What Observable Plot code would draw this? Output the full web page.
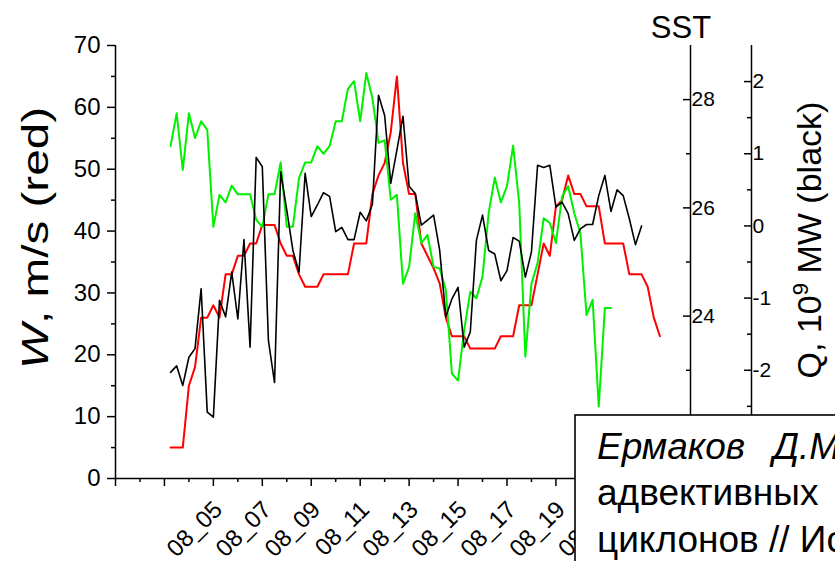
<!DOCTYPE html>
<html><head><meta charset="utf-8">
<script src="https://cdn.jsdelivr.net/npm/d3@7"></script>
<script src="https://cdn.jsdelivr.net/npm/@observablehq/plot@0.6"></script>
<style>
html,body{margin:0;padding:0;background:#fff;overflow:hidden}
#wrap{position:relative;width:835px;height:561px;overflow:hidden}
</style></head>
<body><div id="wrap"></div>
<script>
// time axis: 6-hourly samples starting 3.25 (day of August)
const tStart = 3.25, tStep = 0.25;
// W, m/s (red)
const wRed = [5,5,5,15,18,26,26,28,26,33, 33,36,36,38,38,41,41,41,38,36, 36,33,31,31,31,33,33,33,33,33,
  38,38,38,46,49,51,56,65,51,46, 46,38,36,34,31.5,26,23,23,23,21, 21,21,21,21,23,23,23,28,28,28,
  33,38,36,44,45,49,46,46,44,44, 44,38,38,38,38,33,33,33,31,26, 23];
// Q, 10^9 MW (black)
const qBlack = [-2.03,-1.94,-2.21,-1.82,-1.70,-0.87,-2.58,-2.65,-1.03,-1.26, -0.64,-1.29,-0.19,-1.68,0.95,0.82,-1.59,-2.17,0.75,0.22,
  -0.34,-0.64,0.73,0.13,0.29,0.46,0.41,-0.08,-0.02,-0.19, -0.19,0.19,0.07,0.30,1.81,1.53,0.59,1.05,1.52,0.55,
  0.45,0.01,0.08,0.15,-0.34,-1.26,-1.01,-0.85,-1.68,-1.47, -0.20,0.15,-0.34,-0.39,-0.76,-0.62,-0.16,-0.21,-0.71,-0.36,
  0.84,0.81,0.84,0.26,0.33,0.17,-0.20,-0.04,0.02,0.02, 0.42,0.70,0.20,0.50,0.42,0.10,-0.26,0.00];
// SST (green)
const sstGreen = [27.14,27.75,26.70,27.75,27.29,27.60,27.44,25.65,26.24,26.10, 26.41,26.25,26.25,26.25,25.78,25.65,26.25,26.25,26.84,25.65,
  25.65,26.55,26.84,26.84,27.14,27.00,27.14,27.60,27.60,28.20, 28.34,27.60,28.49,28.03,27.20,27.25,26.15,26.24,24.60,24.91,
  25.90,25.35,25.50,24.91,24.88,24.48,22.94,22.81,23.74,24.45, 24.33,24.73,25.90,26.56,26.10,26.40,27.15,26.09,23.25,24.60,
  24.98,25.81,25.72,25.35,26.21,26.40,25.90,25.53,24.02,24.30, 22.33,24.15,24.15];

const xDomain = [1, 24.5];
const xMajor = [1,3,5,7,9,11,13,15,17,19,21,23];
const xMinor = [2,4,6,8,10,12,14,16,18,20,22,24];
const xLabelDays = [5,7,9,11,13,15,17,19,21];
const xLabels = ["08_05","08_07","08_09","08_11","08_13","08_15","08_17","08_19","08_21"];

const wDomain = [0, 70];
const wMajor = [0,10,20,30,40,50,60,70];
const wMinor = [5,15,25,35,45,55,65];
const sstDomain = [21, 29];
const sstMajor = [24,26,28];       // labelled (22 lies under the citation box)
const sstMajorHidden = [22];
const sstMinor = [23,25,27];
const qDomain = [-3.5, 2.5];
const qMajor = [-2,-1,0,1,2];
const qMinor = [-3,-2.5,-1.5,-0.5,0.5,1.5];

const toW = dom => v => (v - dom[0]) / (dom[1] - dom[0]) * (wDomain[1] - wDomain[0]) + wDomain[0];
const fromW = dom => v => (v - wDomain[0]) / (wDomain[1] - wDomain[0]) * (dom[1] - dom[0]) + dom[0];
const sstToW = toW(sstDomain), qToW = toW(qDomain);
const wToSst = fromW(sstDomain), wToQ = fromW(qDomain);
const fmtPlain = v => { const r = Math.round(v * 100) / 100; return r < 0 ? "-" + Math.abs(r) : String(r); };
const T = (d, i) => tStart + i * tStep;

const FONT = "'Liberation Sans', Arial, Helvetica, sans-serif";
const AX = {stroke: "#000", strokeWidth: 1.5};
const QDX = 61;

const svg = Plot.plot({
  width: 835, height: 561,
  marginLeft: 115, marginRight: 145, marginTop: 45, marginBottom: 83,
  x: {domain: xDomain},
  y: {domain: wDomain},
  style: {fontFamily: FONT, fontSize: "20px", color: "#000", background: "transparent", overflow: "visible"},
  marks: [
    // axis lines
    Plot.ruleX([xDomain[0]], AX),
    Plot.ruleX([xDomain[1]], AX),
    Plot.ruleX([xDomain[1]], {...AX, dx: QDX}),
    Plot.ruleY([wDomain[0]], AX),
    // left W axis
    Plot.axisY(wMajor, {anchor: "left", tickSize: 8, tickPadding: 7, label: null, fontSize: 24, strokeWidth: 1.5}),
    Plot.axisY(wMinor, {anchor: "left", tickSize: 4, tickFormat: () => "", label: null, strokeWidth: 1.5}),
    // bottom x axis
    Plot.axisX(xMajor, {anchor: "bottom", tickSize: 8, tickFormat: () => "", label: null, strokeWidth: 1.5}),
    Plot.axisX(xMinor, {anchor: "bottom", tickSize: 4, tickFormat: () => "", label: null, strokeWidth: 1.5}),
    Plot.axisX(xLabelDays, {anchor: "bottom", tickSize: 0, tickPadding: 0, label: null, tickRotate: -45,
      textAnchor: "end", lineAnchor: "middle", dx: 5, dy: 27, fontSize: 24,
      tickFormat: d => xLabels[xLabelDays.indexOf(d)]}),
    // SST axis
    Plot.axisY(sstMajor.map(sstToW), {anchor: "right", tickSize: -8, tickPadding: 9, label: null, fontSize: 21, strokeWidth: 1.5,
      tickFormat: v => fmtPlain(wToSst(v))}),
    Plot.axisY(sstMajorHidden.map(sstToW), {anchor: "right", tickSize: -8, tickFormat: () => "", label: null, strokeWidth: 1.5}),
    Plot.axisY(sstMinor.map(sstToW), {anchor: "right", tickSize: -5, tickFormat: () => "", label: null, strokeWidth: 1.5}),
    // Q axis
    Plot.axisY(qMajor.map(qToW), {anchor: "right", tickSize: -8, tickPadding: 9, dx: QDX, label: null, fontSize: 21, strokeWidth: 1.5,
      tickFormat: v => fmtPlain(wToQ(v))}),
    Plot.axisY(qMinor.map(qToW), {anchor: "right", tickSize: -5, dx: QDX, tickFormat: () => "", label: null, strokeWidth: 1.5}),
    // series
    Plot.line(wRed, {x: T, y: d => d, stroke: "#ff0000", strokeWidth: 2}),
    Plot.line(sstGreen, {x: T, y: d => sstToW(d), stroke: "#00f000", strokeWidth: 2}),
    Plot.line(qBlack, {x: T, y: d => qToW(d), stroke: "#000000", strokeWidth: 1.6})
  ]
});

document.getElementById("wrap").appendChild(svg);
const s = d3.select(svg);

// axis titles
const wt = s.append("text").attr("transform", "translate(48,238) rotate(-90)")
  .attr("text-anchor", "middle").attr("font-family", FONT).attr("font-size", 36).attr("fill", "#000")
  .attr("textLength", 262).attr("lengthAdjust", "spacingAndGlyphs");
wt.append("tspan").attr("font-style", "italic").text("W");
wt.append("tspan").text(", m/s (red)");

s.append("text").attr("x", 681).attr("y", 38).attr("text-anchor", "middle")
  .attr("font-family", FONT).attr("font-size", 31).attr("fill", "#000").text("SST");

const qt = s.append("text").attr("transform", "translate(821,240) rotate(-90)")
  .attr("text-anchor", "middle").attr("font-family", FONT).attr("font-size", 34).attr("fill", "#000");
qt.append("tspan").text("Q, 10");
qt.append("tspan").attr("font-size", 22).attr("dy", -13).text("9");
qt.append("tspan").attr("dy", 13).text(" MW (black)");

// citation box overlay (clipped by the page edge, as in the source)
const g = s.append("g").attr("text-anchor", "start");
g.append("rect").attr("x", 575).attr("y", 415).attr("width", 320).attr("height", 200)
  .attr("fill", "#fff").attr("stroke", "#000").attr("stroke-width", 1.6);
const bx = 597, fs = 37;
const l1 = g.append("text").attr("x", bx).attr("y", 459).attr("font-family", FONT).attr("font-size", fs)
  .attr("font-style", "italic").attr("fill", "#000").attr("text-anchor", "start");
l1.append("tspan").text("Ермаков");
l1.append("tspan").attr("x", 773).text("Д.М.");
g.append("text").attr("x", bx).attr("y", 505).attr("font-family", FONT).attr("font-size", fs).attr("fill", "#000")
  .attr("text-anchor", "start").text("адвективных");
g.append("text").attr("x", bx).attr("y", 552).attr("font-family", FONT).attr("font-size", fs).attr("fill", "#000")
  .attr("text-anchor", "start").text("циклонов // Ис");
</script>
</body></html>
